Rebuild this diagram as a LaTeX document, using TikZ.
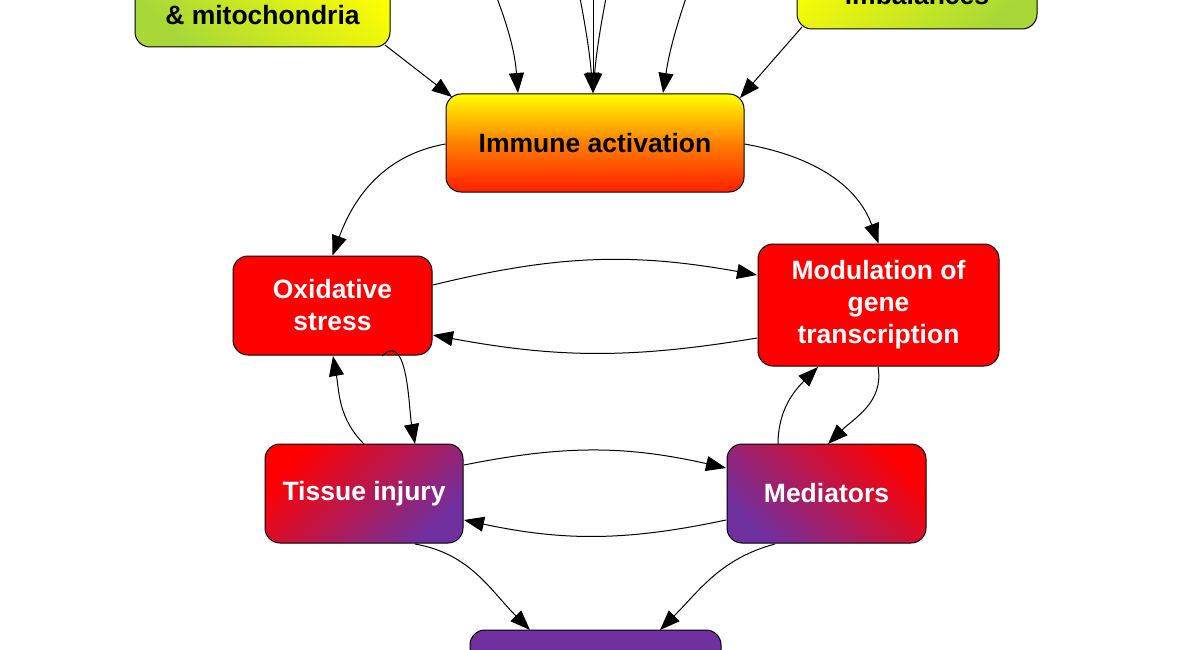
\documentclass[tikz,border=0pt]{standalone}
\usepackage{fontspec}
\setmainfont{Liberation Sans}
\usetikzlibrary{arrows.meta}
\definecolor{rd}{HTML}{FF0000}
\definecolor{pu}{HTML}{7030A0}
\definecolor{ye}{HTML}{FFFF00}
\definecolor{gr}{HTML}{A8D838}
\begin{document}
\begin{tikzpicture}[x=1pt,y=-1pt,
 fnt/.style={font=\fontsize{26.5}{32}\selectfont\bfseries},
 box/.style={draw=black,line width=1pt,rounded corners=15pt,align=center,fnt,inner sep=0pt},
 ar/.style={-{Triangle[length=20pt,width=15pt]},line width=1pt}]
\useasboundingbox (0,0) rectangle (1191,650);
\node[box,minimum width=255pt,minimum height=100pt,top color=ye,bottom color=gr,shading angle=-45] (tl) at (262.5,-3) {};
\node[fnt] (tlt) at (262.5,15) {\& mitochondria};
\node[box,minimum width=240pt,minimum height=100pt,top color=ye,bottom color=gr,shading angle=45] (tr) at (917,-21) {};
\node[fnt] (trt) at (917,-5) {imbalances};
\node[box,minimum width=298pt,minimum height=98pt,top color=ye,bottom color=rd!88!ye,middle color=orange] (ia) at (595,143) {Immune activation};
\node[box,minimum width=199pt,minimum height=99pt,fill=rd,text=white] (os) at (332.5,305.5) {Oxidative\\stress};
\node[box,minimum width=241pt,minimum height=122pt,fill=rd,text=white] (mg) at (878.5,305) {Modulation of\\gene\\transcription};
\node[box,minimum width=198pt,minimum height=99pt,top color=rd,bottom color=pu,shading angle=45,text=white] (ti) at (364,493.5) {Tissue injury};
\node[box,minimum width=199pt,minimum height=99pt,top color=rd,bottom color=pu,shading angle=-45,text=white] (me) at (826.5,493.5) {Mediators};
\node[box,minimum width=251pt,minimum height=90pt,fill=pu] (bt) at (595.5,675) {};
\coordinate (s1) at (497,-2);
\coordinate (s2) at (580,-2);
\coordinate (s3) at (593,-2);
\coordinate (s4) at (606,-2);
\coordinate (s5) at (686,-2);
\draw[ar] (385,45) -- (452,97);
\draw[ar] (s1) to[bend left=8] (518,93);
\draw[ar] (s2) to[bend left=3] (593,93);
\draw[ar] (s3) -- (593,93);
\draw[ar] (s4) to[bend right=3] (593,93);
\draw[ar] (s5) to[bend right=5] (663,93);
\draw[ar] (802,27) -- (740,98);
\draw[ar] (ia.west) ++(0,1) to[out=190,in=70] (os.north);
\draw[ar] (ia.east) ++(0,1) to[out=-10,in=110] (mg.north);
\draw[ar] (433,285) to[bend left=12] (757,275);
\draw[ar] (757,338) to[bend left=10] (433,335);
\draw[ar] (382,356) to[out=45,in=100] (415,444);
\draw[ar] (364,444) to[out=135,in=-80] (333,356);
\draw[ar] (878,367) to[out=-80,in=45] (828,444);
\draw[ar] (778,444) to[out=90,in=-135] (818,367);
\draw[ar] (464,465) to[bend left=12] (726,468);
\draw[ar] (726,520) to[bend left=12] (464,520);
\draw[ar] (415,544) to[out=-10,in=135] (530,630);
\draw[ar] (775,544) to[out=-165,in=45] (660,630);
\end{tikzpicture}
\end{document}
